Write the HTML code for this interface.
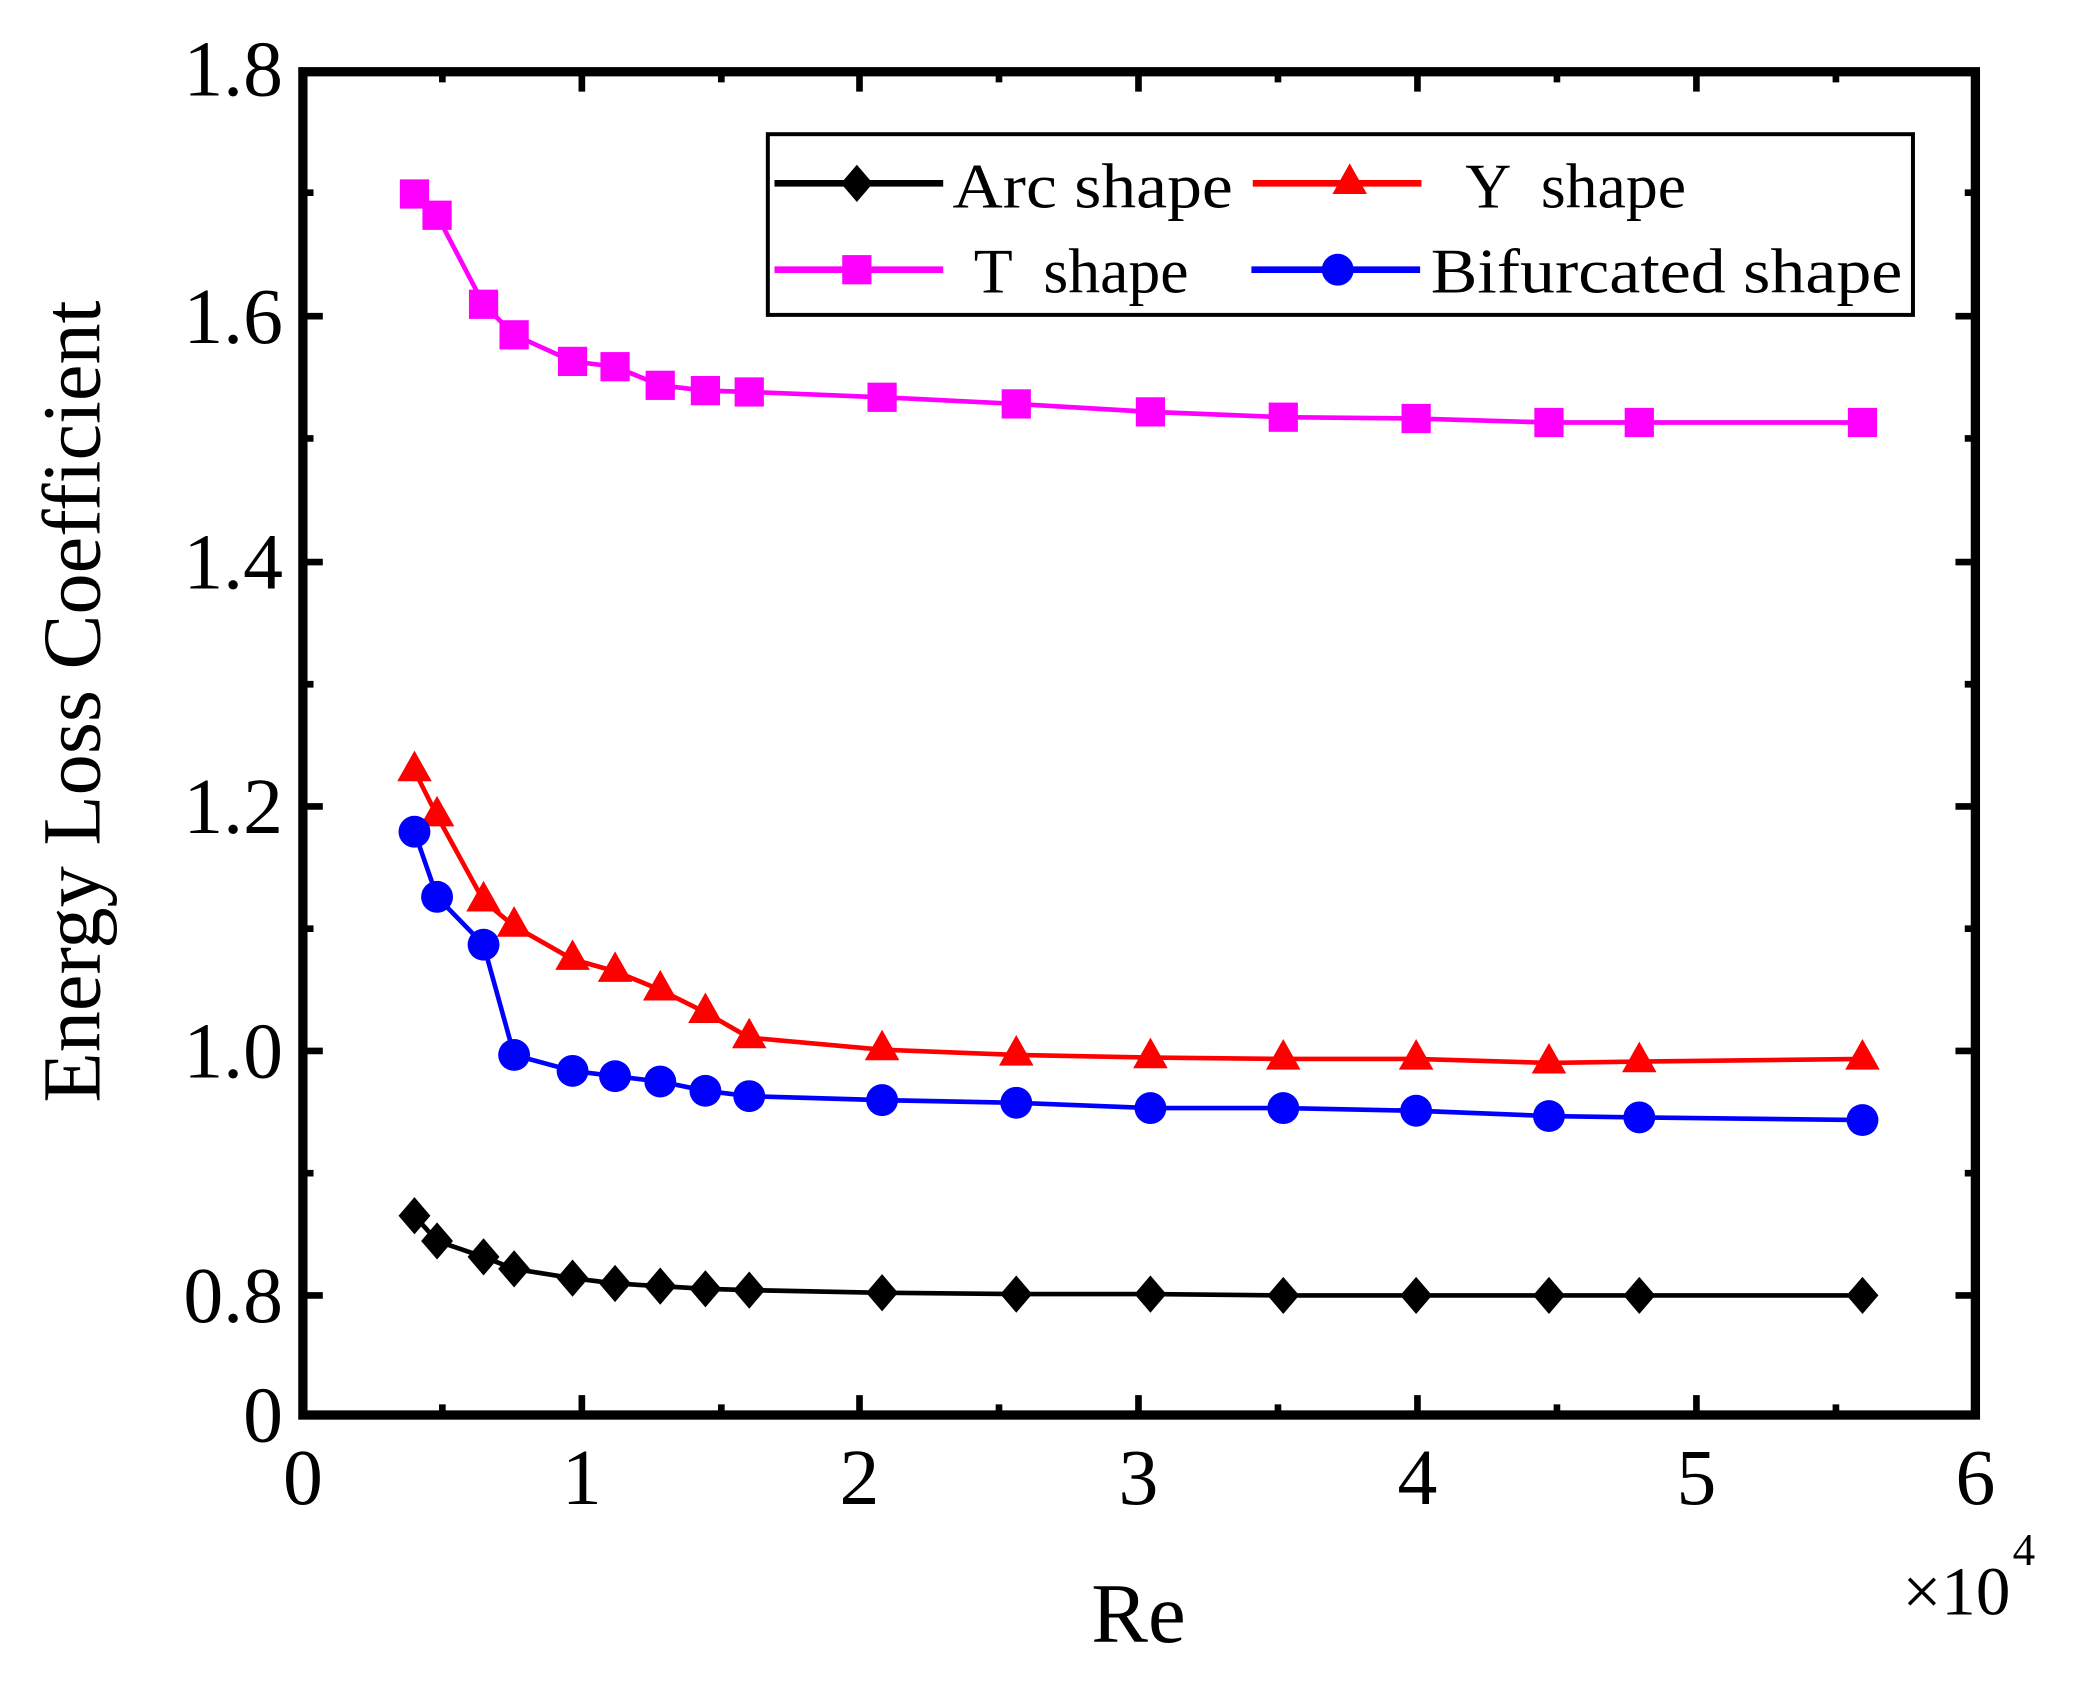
<!DOCTYPE html>
<html><head><meta charset="utf-8"><style>html,body{margin:0;padding:0;background:#fff}svg{display:block}</style></head>
<body>
<svg width="2083" height="1702" viewBox="0 0 1568 1281" preserveAspectRatio="none" xmlns="http://www.w3.org/2000/svg" font-family="'Liberation Serif', serif">
<rect width="1568" height="1281" fill="#fff"/>
<g stroke="#000" stroke-width="5">
<path d="M228 238h15M228 423h15M228 607h15M228 791h15M228 975h15M228 145h8M228 330h8M228 515h8M228 699h8M228 883h8
M1487 238h-15M1487 423h-15M1487 607h-15M1487 791h-15M1487 975h-15M1487 145h-8M1487 330h-8M1487 515h-8M1487 699h-8M1487 883h-8
M438 1065v-15M647 1065v-15M857 1065v-15M1067 1065v-15M1277 1065v-15M333 1065v-8M543 1065v-8M752 1065v-8M962 1065v-8M1172 1065v-8M1382 1065v-8
M438 54v15M647 54v15M857 54v15M1067 54v15M1277 54v15M333 54v8M543 54v8M752 54v8M962 54v8M1172 54v8M1382 54v8"/>
</g>
<rect x="228" y="54" width="1259" height="1011" fill="none" stroke="#000" stroke-width="7"/>
<g font-size="60" fill="#000" text-anchor="end">
<text x="213" y="72">1.8</text><text x="213" y="258">1.6</text><text x="213" y="443">1.4</text><text x="213" y="627">1.2</text><text x="213" y="811">1.0</text><text x="213" y="995">0.8</text><text x="213" y="1085">0</text>
</g>
<g font-size="60" fill="#000" text-anchor="middle">
<text x="228" y="1132">0</text><text x="438" y="1132">1</text><text x="647" y="1132">2</text><text x="857" y="1132">3</text><text x="1067" y="1132">4</text><text x="1277" y="1132">5</text><text x="1487" y="1132">6</text>
<text x="857" y="1236" font-size="64">Re</text>
</g>
<text x="1432" y="1215" font-size="52">×10</text><text x="1515" y="1178" font-size="34">4</text>
<text transform="translate(75,528) rotate(-90)" font-size="62" text-anchor="middle">Energy Loss Coefficient</text>
<polyline fill="none" stroke="#ff00ff" stroke-width="3.5" points="312,146 329,162 364,229 387,252 431,272 463,276 497,290 531,294 564,295 664,299 765,304 866,310 966,314 1066,315 1166,318 1234,318 1402,318"/>
<g fill="#ff00ff">
<rect x="301" y="135" width="22" height="22"/><rect x="318" y="151" width="22" height="22"/><rect x="353" y="218" width="22" height="22"/><rect x="376" y="241" width="22" height="22"/><rect x="420" y="261" width="22" height="22"/><rect x="452" y="265" width="22" height="22"/><rect x="486" y="279" width="22" height="22"/><rect x="520" y="283" width="22" height="22"/><rect x="553" y="284" width="22" height="22"/><rect x="653" y="288" width="22" height="22"/><rect x="754" y="293" width="22" height="22"/><rect x="855" y="299" width="22" height="22"/><rect x="955" y="303" width="22" height="22"/><rect x="1055" y="304" width="22" height="22"/><rect x="1155" y="307" width="22" height="22"/><rect x="1223" y="307" width="22" height="22"/><rect x="1391" y="307" width="22" height="22"/>
</g>
<polyline fill="none" stroke="#ff0000" stroke-width="3.5" points="312,580 329,614 364,678 387,697 431,722 463,731 497,745 531,762 564,781 664,790 765,794 866,796 966,797 1066,797 1166,800 1234,799 1402,797"/>
<g fill="#ff0000">
<path d="M312,565l13,23h-26z"/><path d="M329,599l13,23h-26z"/><path d="M364,663l13,23h-26z"/><path d="M387,682l13,23h-26z"/><path d="M431,707l13,23h-26z"/><path d="M463,716l13,23h-26z"/><path d="M497,730l13,23h-26z"/><path d="M531,747l13,23h-26z"/><path d="M564,766l13,23h-26z"/><path d="M664,775l13,23h-26z"/><path d="M765,779l13,23h-26z"/><path d="M866,781l13,23h-26z"/><path d="M966,782l13,23h-26z"/><path d="M1066,782l13,23h-26z"/><path d="M1166,785l13,23h-26z"/><path d="M1234,784l13,23h-26z"/><path d="M1402,782l13,23h-26z"/>
</g>
<polyline fill="none" stroke="#0000ff" stroke-width="3.5" points="312,626 329,675 364,711 387,794 431,806 463,810 497,814 531,821 564,825 664,828 765,830 866,834 966,834 1066,836 1166,840 1234,841 1402,843"/>
<g fill="#0000ff">
<circle cx="312" cy="626" r="12"/><circle cx="329" cy="675" r="12"/><circle cx="364" cy="711" r="12"/><circle cx="387" cy="794" r="12"/><circle cx="431" cy="806" r="12"/><circle cx="463" cy="810" r="12"/><circle cx="497" cy="814" r="12"/><circle cx="531" cy="821" r="12"/><circle cx="564" cy="825" r="12"/><circle cx="664" cy="828" r="12"/><circle cx="765" cy="830" r="12"/><circle cx="866" cy="834" r="12"/><circle cx="966" cy="834" r="12"/><circle cx="1066" cy="836" r="12"/><circle cx="1166" cy="840" r="12"/><circle cx="1234" cy="841" r="12"/><circle cx="1402" cy="843" r="12"/>
</g>
<polyline fill="none" stroke="#000" stroke-width="3.5" points="312,915 329,934 364,946 387,955 431,962 463,966 497,968 531,970 564,971 664,973 765,974 866,974 966,975 1066,975 1166,975 1234,975 1402,975"/>
<g fill="#000">
<path d="M312,901l12,14l-12,14l-12,-14z"/><path d="M329,920l12,14l-12,14l-12,-14z"/><path d="M364,932l12,14l-12,14l-12,-14z"/><path d="M387,941l12,14l-12,14l-12,-14z"/><path d="M431,948l12,14l-12,14l-12,-14z"/><path d="M463,952l12,14l-12,14l-12,-14z"/><path d="M497,954l12,14l-12,14l-12,-14z"/><path d="M531,956l12,14l-12,14l-12,-14z"/><path d="M564,957l12,14l-12,14l-12,-14z"/><path d="M664,959l12,14l-12,14l-12,-14z"/><path d="M765,960l12,14l-12,14l-12,-14z"/><path d="M866,960l12,14l-12,14l-12,-14z"/><path d="M966,961l12,14l-12,14l-12,-14z"/><path d="M1066,961l12,14l-12,14l-12,-14z"/><path d="M1166,961l12,14l-12,14l-12,-14z"/><path d="M1234,961l12,14l-12,14l-12,-14z"/><path d="M1402,961l12,14l-12,14l-12,-14z"/>
</g>
<rect x="578" y="101" width="862" height="136" fill="#fff" stroke="#000" stroke-width="3"/>
<path d="M583 138H710" stroke="#000" stroke-width="5"/><path d="M645,124l12,14l-12,14l-12,-14z"/>
<path d="M943 138H1070" stroke="#ff0000" stroke-width="5"/><path d="M1016,123l13,23h-26z" fill="#ff0000"/>
<path d="M583 203H710" stroke="#ff00ff" stroke-width="5"/><rect x="634" y="192" width="22" height="22" fill="#ff00ff"/>
<path d="M942 203H1069" stroke="#0000ff" stroke-width="5"/><ellipse cx="1007" cy="203" rx="12" ry="12" fill="#0000ff"/>
<g font-size="48" fill="#000">
<text x="717" y="156" textLength="211" lengthAdjust="spacingAndGlyphs">Arc shape</text>
<text x="1103" y="156" xml:space="preserve">Y  shape</text>
<text x="733" y="220" xml:space="preserve">T  shape</text>
<text x="1077" y="220" textLength="355" lengthAdjust="spacingAndGlyphs">Bifurcated shape</text>
</g>
</svg>
</body></html>
